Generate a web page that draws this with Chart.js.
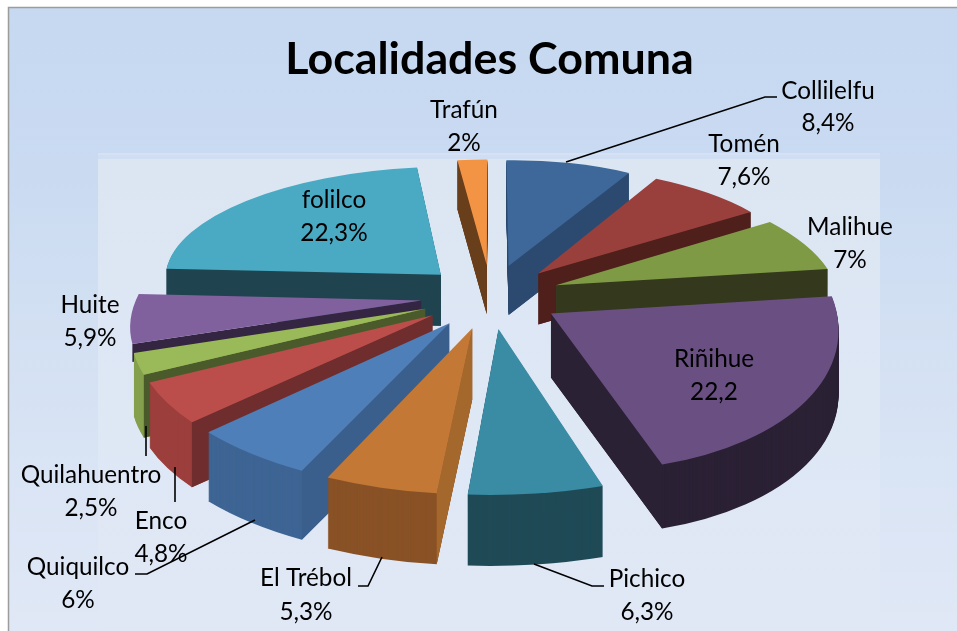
<!DOCTYPE html>
<html>
<head>
<meta charset="utf-8">
<style>html,body{margin:0;padding:0;background:#fff}canvas{display:block}</style>
<script src="https://cdn.jsdelivr.net/npm/chart.js@4"></script>
</head>
<body>
<canvas id="c" width="957" height="631"></canvas>
<script>
const categories = ["Collilelfu","Tomén","Malihue","Riñihue","Pichico","El Trébol","Quiquilco","Enco","Quilahuentro","Huite","folilco","Trafún"];
const values = [8.4,7.6,7,22.2,6.3,5.3,6,4.8,2.5,5.9,22.3,2];
const valueTexts = ["8,4%","7,6%","7%","22,2","6,3%","5,3%","6%","4,8%","2,5%","5,9%","22,3%","2%"];
const topColors = ["#3d6899","#9a403c","#7f9a45","#6a5082","#3a8ca4","#c47835","#4e7fb9","#bb4e4b","#9aba59","#80619e","#4aa9c3","#f39445"];
const wallColors = ["#2c4a70","#4f1f1c","#34391d","#2b2135","#1f4a56","#895226","#3e6594","#9c3f3c","#85a04d",null,"#1f444f","#693e1b"];
const faceColors = ["#2c4a70","#4f1f1c","#34391d","#2b2135","#1f4a56","#a5682c","#3a5f8d","#702d2d","#4b5a2a","#342643","#1f444f","#693e1b"];

// label anchors: centre x, first line y, second line y
const labelAnchors = [[828,91,123],[744,144,177],[850,227,260],[714,359,392],[647,579,612],[306,578,612],[78,567,600],[161,521,554],[91,475,508],[90,305,338],[334,200,233],[464,110,143]];
const leaders = [
  [[566,162],[765,97],[777,97]],
  [[534,564],[592,586],[604,586]],
  [[382,557],[368,586],[358,586]],
  [[255,520],[147,574],[135,574]],
  [[175,467],[175,502]],
  [[146,426],[146,456]]
];

// perspective of the pie's ground plane
const CX=491, CY=296, SQUASH=.458, PERSP=.00053, EXPLODE=70, RADIUS=284, DEPTH=58, SHEAR=.01;
const f = v => 1/(1-PERSP*v);
const project = (u,v) => [CX+u*f(v)-Math.max(0,v)*SHEAR, CY+v*SQUASH*f(v)];

const pie3d = {
  id:'pie3d',
  beforeDraw(chart){
    const ctx=chart.ctx;
    ctx.save();
    ctx.fillStyle='#fff';ctx.fillRect(0,0,957,631);
    let g=ctx.createLinearGradient(0,8,0,631);
    g.addColorStop(0,'#c6d9f1');g.addColorStop(.25,'#c9daf1');g.addColorStop(.55,'#d4e1f3');g.addColorStop(1,'#e0e8f6');
    ctx.fillStyle=g;ctx.fillRect(8,7,949,624);
    ctx.fillStyle='#cfdef3';ctx.fillRect(98,153,782,6);
    g=ctx.createLinearGradient(0,159,0,631);
    g.addColorStop(0,'#dce6f3');g.addColorStop(1,'#e0e8f6');
    ctx.fillStyle=g;ctx.fillRect(98,159,782,472);
    ctx.fillStyle='#d6e2f4';ctx.fillRect(98,153,782,2);
    ctx.strokeStyle='#9c9c9c';ctx.lineWidth=1.5;
    ctx.beginPath();ctx.moveTo(8.5,631);ctx.lineTo(8.5,7.5);ctx.lineTo(957,7.5);ctx.stroke();
    ctx.restore();
  },
  beforeDatasetsDraw(chart){
    const ctx=chart.ctx;
    const arcs=chart.getDatasetMeta(0).data.map((el,i)=>({el,i,mid:(el.startAngle+el.endAngle)/2}));
    arcs.sort((a,b)=>Math.sin(a.mid)-Math.sin(b.mid));
    ctx.save();
    for(const {el,i,mid} of arcs){
      const s=el.startAngle,e=el.endAngle,r=el.outerRadius;
      const au=EXPLODE*Math.cos(mid),av=EXPLODE*Math.sin(mid);
      const A=project(au,av);
      const S=project(au+RADIUS*Math.cos(s),av+RADIUS*Math.sin(s));
      const E=project(au+RADIUS*Math.cos(e),av+RADIUS*Math.sin(e));
      const lsx=r*Math.cos(s),lsy=r*Math.sin(s),lex=r*Math.cos(e),ley=r*Math.sin(e);
      const det=lsx*ley-lex*lsy;
      const sx=S[0]-A[0],sy=S[1]-A[1],ex=E[0]-A[0],ey=E[1]-A[1];
      const a=(sx*ley-ex*lsy)/det, c=(ex*lsx-sx*lex)/det;
      const b=(sy*ley-ey*lsy)/det, d=(ey*lsx-sy*lex)/det;
      const tx=A[0]-a*el.x-c*el.y, ty=A[1]-b*el.x-d*el.y;
      const h=Math.round(DEPTH*f(av+RADIUS*Math.sin(mid)));
      const faceH=wallColors[i]?h:h*.3;
      const saved=el.options;
      // side wall, swept downward
      if(wallColors[i]){
        el.options=Object.assign({},saved,{backgroundColor:wallColors[i],borderWidth:0});
        for(let k=h;k>=1;k--){ctx.setTransform(a,b,c,d,tx,ty+k);el.draw(ctx);}
      }
      ctx.setTransform(1,0,0,1,0,0);
      // cut faces that look toward the viewer
      for(const [T,O] of [[S,E],[E,S]]){
        const dx=T[0]-A[0],dy=T[1]-A[1];
        const crossO=dx*(O[1]-A[1])-dy*(O[0]-A[0]);
        const crossDown=dx;
        if(crossO*crossDown<0){
          ctx.fillStyle=faceColors[i];
          ctx.beginPath();ctx.moveTo(A[0],A[1]);ctx.lineTo(T[0],T[1]);ctx.lineTo(T[0],T[1]+faceH);ctx.lineTo(A[0],A[1]+faceH);ctx.closePath();ctx.fill();
        }
      }
      // top surface
      el.options=Object.assign({},saved,{backgroundColor:topColors[i],borderWidth:0});
      ctx.setTransform(a,b,c,d,tx,ty);el.draw(ctx);
      ctx.setTransform(1,0,0,1,0,0);
      el.options=saved;
    }
    ctx.restore();
    return false;
  },
  afterDraw(chart){
    const ctx=chart.ctx;
    ctx.save();
    ctx.strokeStyle='#000';ctx.lineWidth=1.6;
    for(const line of leaders){
      ctx.beginPath();
      line.forEach((p,k)=>k?ctx.lineTo(p[0],p[1]):ctx.moveTo(p[0],p[1]));
      ctx.stroke();
    }
    ctx.fillStyle='#000';ctx.font='24.3px Lato';ctx.textAlign='center';ctx.textBaseline='middle';
    categories.forEach((name,i)=>{
      const [x,y1,y2]=labelAnchors[i];
      ctx.fillText(name,x,y1);
      ctx.fillText(valueTexts[i],x,y2);
    });
    ctx.restore();
  }
};

new Chart(document.getElementById('c'),{
  type:'pie',
  data:{labels:categories,datasets:[{data:values,backgroundColor:topColors,borderWidth:0,offset:0}]},
  options:{
    responsive:false,animation:false,devicePixelRatio:1,
    layout:{padding:{left:22,top:33}},
    plugins:{
      legend:{display:false},tooltip:{enabled:false},
      title:{display:true,text:'Localidades Comuna',color:'#000',font:{family:'Lato',size:44.8,weight:'bold'},padding:{top:0,bottom:10}}
    }
  },
  plugins:[pie3d]
});
</script>
</body>
</html>
